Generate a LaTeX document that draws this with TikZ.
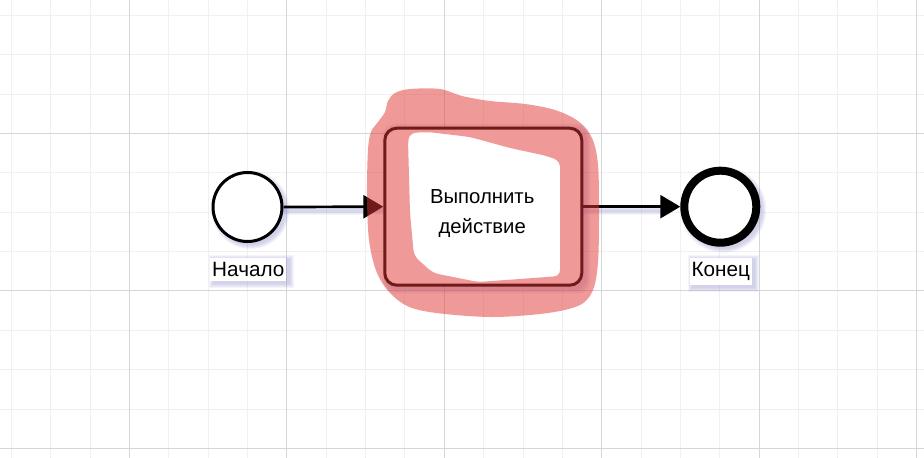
\documentclass[tikz,border=0pt]{standalone}
\usepackage{fontspec}
\setmainfont{Liberation Sans}
\usetikzlibrary{arrows.meta}
\pgfdeclarelayer{gridlayer}
\pgfdeclarelayer{shadowlayer}
\pgfdeclarelayer{toplayer}
\pgfsetlayers{gridlayer,shadowlayer,main,toplayer}
\definecolor{gridminor}{RGB}{240,240,240}
\definecolor{gridmajor}{RGB}{214,214,214}
\definecolor{hl}{RGB}{225,55,50}
\definecolor{shadowc}{RGB}{140,140,205}
\begin{document}
\begin{tikzpicture}[x=1bp,y=-1bp,
  event/.style={circle, draw=black, fill=white, inner sep=0pt},
  startevent/.style={event, line width=3bp, minimum size=69bp},
  endevent/.style={event, line width=8bp, minimum size=72bp},
  taskbox/.style={rectangle, rounded corners=12bp, draw=black, fill=white, line width=3bp, minimum width=197bp, minimum height=157bp, inner sep=0pt},
  tasktext/.style={font=\fontsize{20.3bp}{30bp}\selectfont, inner sep=0pt, anchor=base},
  eventlabel/.style={font=\fontsize{20.7bp}{24bp}\selectfont, fill=white, inner xsep=2bp, inner ysep=4bp, anchor=base},
  flow/.style={line width=2.7bp, -{Triangle[length=20bp,width=23bp]}},
  shadowfill/.style={fill=shadowc, opacity=0.09},
]
\useasboundingbox (0,0) rectangle (924,458);

% grid
\begin{pgfonlayer}{gridlayer}
\fill[white] (0,0) rectangle (924,458);
\foreach \i in {0,...,23} {
  \pgfmathsetmacro\gx{11.45+39.35*\i}
  \draw[gridminor, line width=1bp] (\gx,0) -- (\gx,458);
}
\foreach \j in {0,...,11} {
  \pgfmathsetmacro\gy{15.5+39.35*\j}
  \draw[gridminor, line width=1bp] (0,\gy) -- (924,\gy);
}
\foreach \i in {3,7,11,15,19,23} {
  \pgfmathsetmacro\gx{11.45+39.35*\i}
  \draw[gridmajor, line width=1bp] (\gx,0) -- (\gx,458);
}
\foreach \j in {3,7,11} {
  \pgfmathsetmacro\gy{15.5+39.35*\j}
  \draw[gridmajor, line width=1bp] (0,\gy) -- (924,\gy);
}
\end{pgfonlayer}

% shapes
\node[startevent] (start) at (247.5,207) {};
\node[taskbox] (task) at (483.3,206.7) {};
\node[endevent] (finish) at (720.3,206.7) {};

\node[tasktext] (t1) at (482.2,203.3) {Выполнить};
\node[tasktext] (t2) at (482.2,233.3) {действие};
\node[eventlabel] (startlabel) at (248.3,276.7) {Начало};
\node[eventlabel] (finishlabel) at (720.8,276.7) {Конец};

\draw[flow] (start.east) -- (task.west);
\draw[flow] (task.east) -- (finish.west);

% soft shadows
\begin{pgfonlayer}{shadowlayer}
\foreach \k in {0,1,2,3,4} {
  \fill[shadowfill] ([shift={(3bp,-3bp)}]start.center) circle ({35+\k});
  \fill[shadowfill] ([shift={(3bp,-3bp)}]finish.center) circle ({39+\k});
  \fill[shadowfill, rounded corners=12bp] ([shift={({(3-\k)*1bp},{(-1+\k)*1bp})}]task.north west) rectangle ([shift={({(3+\k)*1bp},{(-3-\k)*1bp})}]task.south east);
  \fill[shadowfill] ([shift={({(3-\k)*1bp},{(-1+\k)*1bp})}]startlabel.north west) rectangle ([shift={({(3+\k)*1bp},{(-3-\k)*1bp})}]startlabel.south east);
  \fill[shadowfill] ([shift={({(3-\k)*1bp},{(-1+\k)*1bp})}]finishlabel.north west) rectangle ([shift={({(3+\k)*1bp},{(-3-\k)*1bp})}]finishlabel.south east);
  \draw[shadowc, opacity=0.08, line width={(2+1.5*\k)*1bp}] ([shift={(0,-4bp)}]start.east) -- ([shift={(0,-4bp)}]task.west);
  \draw[shadowc, opacity=0.08, line width={(2+1.5*\k)*1bp}] ([shift={(0,-4bp)}]task.east) -- ([shift={(-10bp,-4bp)}]finish.west);
}
\end{pgfonlayer}

% highlighter marking
\begin{pgfonlayer}{toplayer}
\fill[hl, opacity=0.5, even odd rule]
  plot[smooth cycle, tension=0.55] coordinates {
    (368,150) (371,132) (378,122) (385,112) (388,101) (395,93) (410,89)
    (440,89) (462,96) (490,101) (525,104) (555,110) (578,121) (592,138)
    (598,165) (599,215) (598,262) (593,290) (580,305) (548,313) (495,317)
    (445,314) (412,308) (392,295) (377,273) (369,240) (367,195)}
  [rounded corners=6bp]
  (408,140) -- (410,133) -- (428,132) -- (470,137) -- (510,148) -- (547,156)
  -- (560,161) -- (560,276) -- (520,279) -- (478,282) -- (433,273)
  -- (414,256) -- (410,213) -- cycle;
\end{pgfonlayer}
\end{tikzpicture}
\end{document}
